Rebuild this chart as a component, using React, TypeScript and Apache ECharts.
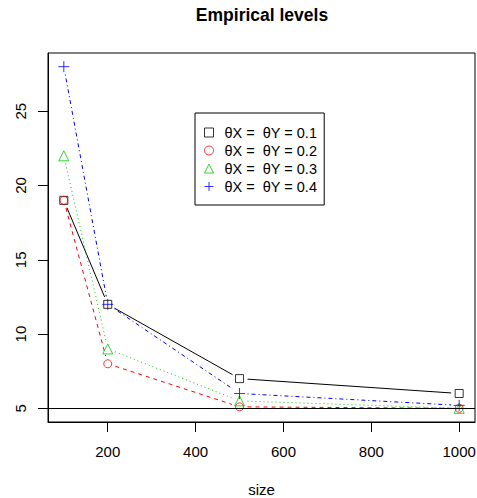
import React, { useEffect, useRef } from "react";
import * as echarts from "echarts";

const sizes = [100, 200, 500, 1000];
const seriesNames = ["θX =  θY = 0.1", "θX =  θY = 0.2", "θX =  θY = 0.3", "θX =  θY = 0.4"];
const level01 = [19, 12, 7, 6];
const level02 = [19, 8, 5.1, 5];
const level03 = [22, 9, 5.5, 5];
const level04 = [28, 12, 6, 5.2];
const xTicks = [200, 400, 600, 800, 1000];
const yTicks = [5, 10, 15, 20, 25];
const nominalLevel = 5;

const allLevels = [level01, level02, level03, level04];
const colors = ["#000000", "#FF0000", "#00CD00", "#0000FF"];
const dashes: (number[] | null)[] = [null, [4, 4], [1, 3], [1, 3, 4, 3]];
const symbols = [
  "rect",
  "circle",
  "triangle",
  "path://M0,5L10,5M5,0L5,10",
];
const symbolSizes = [8, 8, 10, 11];

const FONT = "'Liberation Sans', Arial, Helvetica, sans-serif";

export default function App() {
  const ref = useRef<HTMLDivElement>(null);
  useEffect(() => {
    if (!ref.current) return;
    const chart = echarts.init(ref.current, null, { renderer: "svg" });
    const xMin = 100 - 0.04 * 900;
    const xMax = 1000 + 0.04 * 900;
    const yMin = 5 - 0.04 * 23;
    const yMax = 28 + 0.04 * 23;
    const GAP = 8;

    const series: any[] = [];
    allLevels.forEach((vals, k) => {
      const segs = [];
      for (let i = 1; i < sizes.length; i++) {
        segs.push([sizes[i - 1], vals[i - 1], sizes[i], vals[i]]);
      }
      series.push({
        type: "custom",
        name: "seg" + k,
        coordinateSystem: "cartesian2d",
        encode: { x: [0, 2], y: [1, 3] },
        data: segs,
        silent: true,
        renderItem: (params: any, api: any) => {
          const p0 = api.coord([api.value(0), api.value(1)]);
          const p1 = api.coord([api.value(2), api.value(3)]);
          const dx = p1[0] - p0[0];
          const dy = p1[1] - p0[1];
          const len = Math.sqrt(dx * dx + dy * dy);
          if (len <= 2 * GAP) return null;
          const ux = dx / len;
          const uy = dy / len;
          return {
            type: "line",
            shape: {
              x1: p0[0] + ux * GAP,
              y1: p0[1] + uy * GAP,
              x2: p1[0] - ux * GAP,
              y2: p1[1] - uy * GAP,
            },
            style: {
              stroke: colors[k],
              lineWidth: 1,
              lineDash: dashes[k] || undefined,
              fill: null,
            },
          };
        },
      });
    });
    allLevels.forEach((vals, k) => {
      series.push({
        type: "scatter",
        name: seriesNames[k],
        data: sizes.map((s, i) => [s, vals[i]]),
        symbol: symbols[k],
        symbolSize: symbolSizes[k],
        itemStyle: {
          color: "rgba(0,0,0,0)",
          borderColor: colors[k],
          borderWidth: 1,
        },
        emphasis: { disabled: true },
        ...(k === 0
          ? {
              markLine: {
                silent: true,
                symbol: ["none", "none"],
                label: { show: false },
                lineStyle: { color: "#000", type: "solid", width: 1 },
                data: [{ yAxis: nominalLevel }],
              },
            }
          : {}),
      });
    });

    chart.setOption({
      animation: false,
      backgroundColor: "#ffffff",
      title: {
        text: "Empirical levels",
        left: 257,
        top: 1,
        textAlign: "center",
        textStyle: { fontFamily: FONT, fontSize: 17.5, fontWeight: "bold", color: "#000" },
      },
      legend: {
        orient: "vertical",
        left: 195,
        top: 113,
        data: seriesNames.map((n, k) => ({
          name: n,
          icon: symbols[k],
          itemStyle: { color: "rgba(0,0,0,0)", borderColor: colors[k], borderWidth: 1 },
        })),
        itemWidth: 9,
        itemHeight: 9,
        itemGap: 3,
        padding: [12, 7, 11, 9],
        borderColor: "#000",
        borderWidth: 1,
        selectedMode: false,
        textStyle: { fontFamily: FONT, fontSize: 14.5, color: "#000", padding: [0, 0, 0, 6] },
      },
      grid: {
        left: 48,
        right: 2,
        top: 53,
        bottom: 76,
        outerBoundsMode: "none",
        containLabel: false,
        show: true,
        borderColor: "#000",
        borderWidth: 1,
        backgroundColor: "transparent",
      },
      xAxis: {
        type: "value",
        min: xMin,
        max: xMax,
        name: "size",
        nameLocation: "middle",
        nameGap: 60,
        nameTextStyle: { fontFamily: FONT, fontSize: 15, color: "#000" },
        axisLine: { show: true, onZero: false, lineStyle: { color: "#000" } },
        axisTick: { show: true, inside: false, length: 10, customValues: xTicks, lineStyle: { color: "#000" } },
        axisLabel: {
          customValues: xTicks,
          formatter: (v: number) => String(v),
          fontFamily: FONT,
          fontSize: 15,
          color: "#000",
          margin: 22,
        },
        splitLine: { show: false },
      },
      yAxis: {
        type: "value",
        min: yMin,
        max: yMax,
        axisLine: { show: true, onZero: false, lineStyle: { color: "#000" } },
        axisTick: { show: true, inside: false, length: 10, customValues: yTicks, lineStyle: { color: "#000" } },
        axisLabel: { customValues: yTicks, rotate: 90, fontFamily: FONT, fontSize: 15, color: "#000", margin: 20 },
        splitLine: { show: false },
      },
      series,
    });
    return () => chart.dispose();
  }, []);
  return <div ref={ref} style={{ position: "fixed", left: 0, top: 0, width: 477, height: 498 }} />;
}
